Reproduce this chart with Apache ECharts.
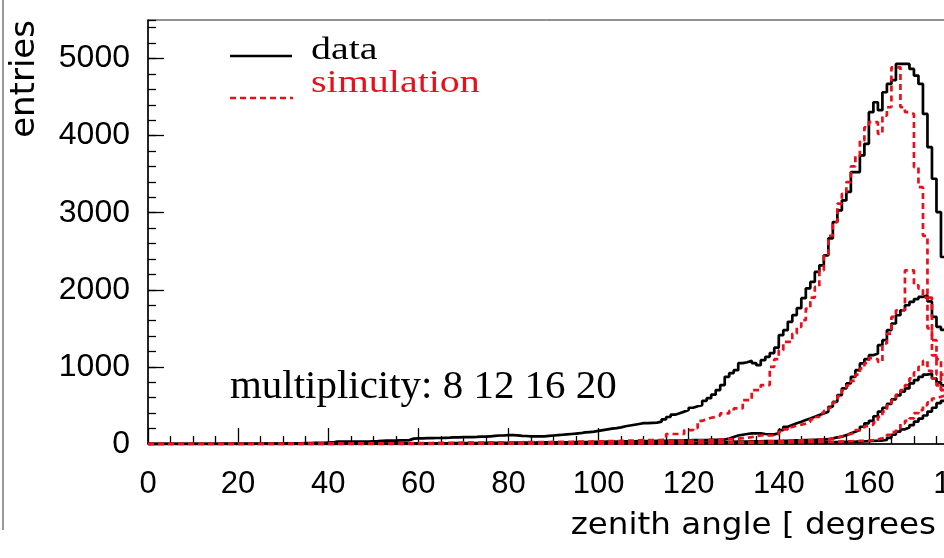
<!DOCTYPE html>
<html><head><meta charset="utf-8">
<script src="https://cdn.jsdelivr.net/npm/echarts@6/dist/echarts.min.js"></script>
<style>html,body{margin:0;padding:0;background:#fff}#chart{width:944px;height:558px}</style>
</head><body><div id="chart"></div>
<script>
// ---- data (1-degree bins starting at 0 deg) ----
const BIN_WIDTH = 1;
const xTitle = 'zenith angle [ degrees ]';
const yTitle = 'entries';
const legendLabels = ['data', 'simulation'];
const annotation = 'multiplicity: 8 12 16 20';
const multiplicities = [8, 12, 16, 20];

const dataM8 = [
0,0,0,0,0,0,0,0,0,0,
0,0,0,0,0,0,1,1,1,2,
2,2,3,3,3,4,4,5,5,5,
8,8,10,10,12,12,14,14,16,18,
20,30,30,30,30,32,30,30,32,35,
38,42,45,45,45,48,48,50,70,72,
72,75,75,78,78,80,82,85,85,88,
90,90,92,95,95,100,105,110,110,115,
115,112,105,104,100,98,100,100,105,110,
115,120,125,130,135,140,150,155,160,170,
180,190,200,205,215,230,240,250,260,270,
270,275,278,290,320,350,380,400,420,440,
470,490,505,560,595,640,700,764,872,920,
958,1049,1060,1079,1050,1023,1088,1131,1180,1250,
1412,1477,1585,1671,1762,1891,2020,2102,2232,2318,
2448,2668,2880,3030,3160,3270,3527,3527,3743,3894,
4304,4433,4330,4563,4671,4720,4930,4930,4930,4865,
4779,4671,4282,3850,3441,3009,2426,1800,1100,500];

const simM8 = [
0,0,0,0,0,0,0,0,0,0,
0,0,0,0,0,0,0,0,0,0,
0,0,0,0,0,2,2,2,2,2,
3,3,3,3,4,4,4,5,5,5,
5,5,6,6,6,7,7,8,8,8,
8,9,9,10,10,10,11,11,12,12,
12,13,13,14,14,15,15,16,16,17,
17,18,18,19,19,20,20,21,21,22,
22,23,23,24,24,25,25,26,26,27,
27,28,28,29,30,30,31,32,33,34,
35,36,37,38,40,42,44,46,48,50,
52,52,52,52,60,130,130,130,130,180,
180,207,300,320,340,350,370,397,397,430,
462,462,570,570,700,700,764,764,1001,1100,
1217,1325,1325,1433,1520,1606,1757,1900,2038,2253,
2448,2700,2879,3117,3246,3397,3600,3743,3937,4109,
4174,4174,4023,4260,4368,4886,4886,4368,4304,4282,
3591,3332,2700,1900,1150,900,700,500,300,150];

const dataM12 = [
0,0,0,0,0,0,0,0,0,0,
0,0,0,0,0,0,0,0,0,0,
0,0,0,0,0,0,0,0,0,0,
0,0,0,1,1,1,1,2,2,2,
2,2,3,3,3,3,4,4,4,5,
5,5,5,6,6,6,7,7,7,8,
8,8,9,9,10,10,10,11,11,12,
12,12,13,13,14,14,15,15,16,16,
17,17,18,18,19,19,20,20,21,21,
22,22,23,23,24,25,25,26,27,28,
29,30,30,31,32,33,34,35,36,37,
38,39,40,41,42,43,44,45,46,48,
50,52,52,52,54,55,56,58,70,90,
110,120,130,138,138,138,130,125,125,140,
181,224,246,268,289,311,332,354,376,397,
419,483,548,635,721,786,872,958,1045,1100,
1152,1174,1282,1347,1476,1563,1670,1735,1800,1843,
1880,1908,1930,1850,1650,1520,1480,1200,800,400];

const simM12 = [
0,0,0,0,0,0,0,0,0,0,
0,0,0,0,0,0,0,0,0,0,
0,0,0,0,0,0,0,0,0,0,
0,0,0,0,1,1,1,1,2,2,
2,2,2,3,3,3,3,4,4,4,
4,5,5,5,5,6,6,6,7,7,
7,8,8,8,9,9,9,10,10,10,
11,11,11,12,12,12,13,13,14,14,
14,15,15,16,16,17,17,18,18,19,
19,20,20,20,21,21,22,22,23,23,
24,24,25,25,26,26,27,27,28,30,
30,32,34,35,36,38,40,40,42,44,
45,46,48,50,52,55,58,60,62,65,
70,75,80,90,100,110,115,110,110,130,
160,190,220,240,250,265,290,320,350,400,
430,470,540,620,700,760,820,900,980,1050,
1114,1100,1066,1304,1433,1649,1735,1735,2253,2253,
2059,2016,1900,1500,1347,1100,900,700,500,300];

const dataM16 = [
0,0,0,0,0,0,0,0,0,0,
0,0,0,0,0,0,0,0,0,0,
0,0,0,0,0,0,0,0,0,0,
0,0,0,0,0,0,0,0,0,0,
0,0,0,0,0,0,0,0,0,0,
1,1,1,1,1,2,2,2,2,2,
2,2,3,3,3,3,3,3,4,4,
4,4,4,4,5,5,5,5,5,6,
6,6,6,6,7,7,7,7,7,8,
8,8,8,8,8,9,9,9,9,9,
10,10,10,10,11,11,11,11,12,12,
12,12,13,13,13,14,14,14,15,15,
15,16,17,18,19,20,22,24,26,28,
30,31,32,33,34,35,36,37,38,39,
40,42,44,46,48,50,52,54,56,58,
62,73,85,95,115,138,160,181,224,268,
300,360,420,470,520,580,630,680,721,786,
829,872,900,915,850,800,760,650,480,280];

const simM16 = [
0,0,0,0,0,0,0,0,0,0,
0,0,0,0,0,0,0,0,0,0,
0,0,0,0,0,0,0,0,0,0,
0,0,0,0,0,0,0,0,0,0,
0,0,0,0,0,0,0,0,0,0,
0,0,1,1,1,1,1,1,2,2,
2,2,2,2,3,3,3,3,3,3,
4,4,4,4,4,5,5,5,5,5,
6,6,6,6,6,7,7,7,7,7,
8,8,8,8,8,9,9,9,9,10,
10,10,10,11,11,11,12,12,12,13,
13,13,14,14,14,15,15,16,16,17,
17,18,18,19,20,21,22,23,24,25,
26,27,28,29,30,32,33,35,36,38,
40,42,44,46,48,50,52,54,56,58,
60,70,80,100,120,130,150,180,200,230,
250,280,350,419,500,570,640,700,764,850,
930,1001,1080,950,850,760,700,550,380,200];

const dataM20 = [
0,0,0,0,0,0,0,0,0,0,
0,0,0,0,0,0,0,0,0,0,
0,0,0,0,0,0,0,0,0,0,
0,0,0,0,0,0,0,0,0,0,
0,0,0,0,0,0,0,0,0,0,
0,0,0,0,0,1,1,1,1,1,
1,1,1,1,2,2,2,2,2,2,
2,2,3,3,3,3,3,3,3,3,
4,4,4,4,4,4,4,5,5,5,
5,5,5,5,6,6,6,6,6,6,
7,7,7,7,7,7,8,8,8,8,
8,9,9,9,9,9,10,10,10,10,
10,11,11,11,12,12,12,13,13,13,
14,14,14,15,15,15,16,16,17,17,
18,18,19,19,20,20,21,22,22,23,
24,25,26,27,28,29,30,32,34,36,
40,42,45,52,80,120,160,190,215,246,
290,330,370,420,470,530,560,580,520,380];

const simM20 = [
0,0,0,0,0,0,0,0,0,0,
0,0,0,0,0,0,0,0,0,0,
0,0,0,0,0,0,0,0,0,0,
0,0,0,0,0,0,0,0,0,0,
0,0,0,0,0,0,0,0,0,0,
0,0,0,0,0,0,1,1,1,1,
1,1,1,1,1,2,2,2,2,2,
2,2,2,2,3,3,3,3,3,3,
3,3,4,4,4,4,4,4,4,5,
5,5,5,5,5,5,6,6,6,6,
6,6,7,7,7,7,7,8,8,8,
8,8,9,9,9,9,10,10,10,10,
11,11,11,12,12,12,13,13,13,14,
14,14,15,15,16,16,17,17,18,18,
19,19,20,21,21,22,23,24,25,26,
27,28,30,32,34,36,38,40,42,45,
50,60,75,90,120,155,200,268,300,332,
400,440,505,540,590,613,630,620,520,350];

const xTicks = { min: 0, max: 180, step: 20, minorSplit: 4 };
const yTicks = { min: 0, max: 5500, step: 1000, minorStep: 200 };

// ---- chart ----
const RED = '#e8101a';
function toSteps(vals) {
  const pts = vals.map((v, i) => [xTicks.min + i * BIN_WIDTH, v]);
  pts.push([xTicks.min + vals.length * BIN_WIDTH, vals[vals.length - 1]]);
  return pts;
}
const dataSets = [dataM8, dataM12, dataM16, dataM20];
const simSets = [simM8, simM12, simM16, simM20];
const series = [];
dataSets.forEach((d, k) => series.push({
  name: legendLabels[0] + ' m=' + multiplicities[k], type: 'line', step: 'end', data: toSteps(d),
  symbol: 'none', lineStyle: { color: '#000', width: 2.7 }, itemStyle: { color: '#000' }, z: 3
}));
simSets.forEach((d, k) => series.push({
  name: legendLabels[1] + ' m=' + multiplicities[k], type: 'line', step: 'end', data: toSteps(d),
  symbol: 'none', lineStyle: { color: RED, width: 2.7, type: [6, 4] }, itemStyle: { color: RED }, z: 4
}));

const labelFont = 'Liberation Sans';
const chart = echarts.init(document.getElementById('chart'), null, { renderer: 'canvas' });
chart.setOption({
  animation: false,
  backgroundColor: '#fff',
  grid: { left: 148, top: 20, width: 811, height: 424, outerBoundsMode: 'none', containLabel: false,
          show: true, borderColor: '#222', borderWidth: 1 },
  xAxis: {
    type: 'value', min: xTicks.min, max: xTicks.max, interval: xTicks.step,
    axisLine: { lineStyle: { color: '#000', width: 1.5 } },
    axisTick: { inside: true, length: 16, lineStyle: { color: '#000', width: 1.3 } },
    minorTick: { show: true, splitNumber: xTicks.minorSplit, length: 8, lineStyle: { color: '#000', width: 1.3 } },
    axisLabel: { fontFamily: labelFont, fontSize: 31, color: '#000', margin: 25, formatter: v => String(v) },
    splitLine: { show: false }, minorSplitLine: { show: false }
  },
  yAxis: [{
    type: 'value', min: yTicks.min, max: yTicks.max, interval: yTicks.step, position: 'left',
    axisLine: { show: true, lineStyle: { color: '#000', width: 1.5 } },
    axisTick: { inside: true, length: 16, lineStyle: { color: '#000', width: 1.3 } },
    axisLabel: { fontFamily: labelFont, fontSize: 32, color: '#000', margin: 18, showMaxLabel: false, formatter: v => String(v) },
    splitLine: { show: false }
  }, {
    type: 'value', min: yTicks.min, max: yTicks.max, interval: yTicks.minorStep, position: 'left',
    axisLine: { show: false },
    axisTick: { inside: true, length: 8, lineStyle: { color: '#000', width: 1.3 } },
    axisLabel: { show: false }, splitLine: { show: false }
  }],
  series: series,
  graphic: [
    { type: 'line', shape: { x1: 3, y1: 0, x2: 3, y2: 530 }, style: { stroke: '#9a9a9a', lineWidth: 2 } },
    { type: 'text', x: 25, y: 20, rotation: Math.PI / 2,
      style: { text: yTitle, font: '34px "DejaVu Sans"', fill: '#000', align: 'right', verticalAlign: 'middle', textAlign: 'right', textVerticalAlign: 'middle' } },
    { type: 'text', x: 959, y: 526, scaleX: 1.085,
      style: { text: xTitle, font: '30px "DejaVu Sans"', fill: '#000', align: 'right', verticalAlign: 'middle', textAlign: 'right', textVerticalAlign: 'middle' } },
    { type: 'line', shape: { x1: 230, y1: 56, x2: 292, y2: 56 }, style: { stroke: '#000', lineWidth: 2.5 } },
    { type: 'text', x: 311, y: 51, scaleX: 1.29,
      style: { text: legendLabels[0], font: '31px "Liberation Serif"', fill: '#000', align: 'left', verticalAlign: 'middle', textAlign: 'left', textVerticalAlign: 'middle' } },
    { type: 'line', shape: { x1: 230, y1: 98, x2: 293, y2: 98 }, style: { stroke: RED, lineWidth: 2.5, lineDash: [6, 4] } },
    { type: 'text', x: 311, y: 84, scaleX: 1.29,
      style: { text: legendLabels[1], font: '31px "Liberation Serif"', fill: RED, align: 'left', verticalAlign: 'middle', textAlign: 'left', textVerticalAlign: 'middle' } },
    { type: 'text', x: 230, y: 388, scaleX: 1.05,
      style: { text: annotation, font: '39px "Liberation Serif"', fill: '#000', align: 'left', verticalAlign: 'middle', textAlign: 'left', textVerticalAlign: 'middle' } }
  ]
});
</script>
</body></html>
